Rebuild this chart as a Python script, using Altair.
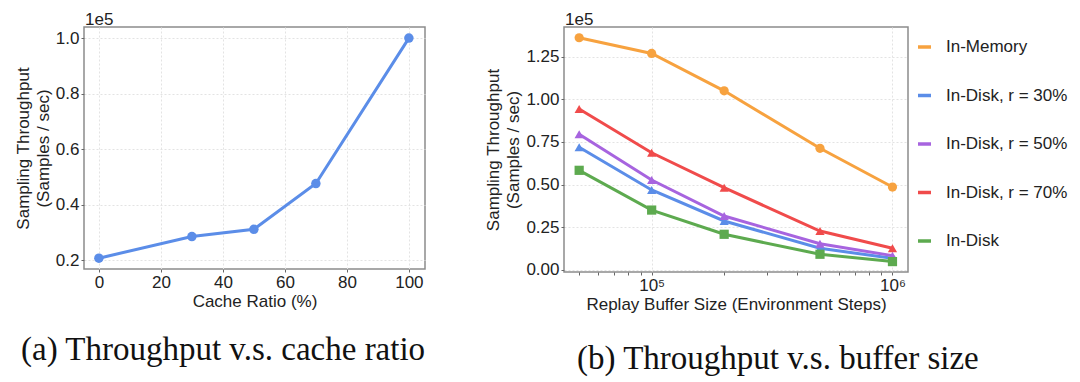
import altair as alt
import pandas as pd

# ---------------- data ----------------
cache_ratio = [0, 30, 50, 70, 100]
cache_throughput = [0.207, 0.285, 0.311, 0.476, 1.0]

buffer_size = [5e4, 1e5, 2e5, 5e5, 1e6]
series_names = ["In-Memory", "In-Disk, r = 30%", "In-Disk, r = 50%", "In-Disk, r = 70%", "In-Disk"]
in_memory = [1.361, 1.269, 1.050, 0.713, 0.486]
in_disk_r30 = [0.719, 0.469, 0.287, 0.127, 0.068]
in_disk_r50 = [0.795, 0.527, 0.316, 0.154, 0.084]
in_disk_r70 = [0.943, 0.687, 0.482, 0.228, 0.127]
in_disk = [0.584, 0.351, 0.209, 0.092, 0.049]
series_values = [in_memory, in_disk_r30, in_disk_r50, in_disk_r70, in_disk]
series_colors = ["#F7A23F", "#5B8DE8", "#A764DF", "#F04B4B", "#5DAA4F"]
series_shapes = ["circle", "triangle-up", "triangle-up", "triangle-up", "square"]
left_color = "#5B8DE8"

left_x_ticks = [0, 20, 40, 60, 80, 100]
left_y_ticks = [0.2, 0.4, 0.6, 0.8, 1.0]
right_y_ticks = [0.0, 0.25, 0.5, 0.75, 1.0, 1.25]
right_x_major = [1e5, 1e6]
right_x_major_labels = ["10⁵", "10⁶"]
right_x_minor = [5e4, 6e4, 7e4, 8e4, 9e4, 2e5, 3e5, 4e5, 5e5, 6e5, 7e5, 8e5, 9e5]

exponent_label = "1e5"
y_title = ["Sampling Throughput", "(Samples / sec)"]
left_x_title = "Cache Ratio (%)"
right_x_title = "Replay Buffer Size (Environment Steps)"
captions = ["(a) Throughput v.s. cache ratio", "(b) Throughput v.s. buffer size"]

SANS = "Liberation Sans"
SERIF = "Liberation Serif"

# ---------------- tables ----------------
left_df = pd.DataFrame({"ratio": cache_ratio, "tput": cache_throughput})
rows = []
for name, vals, col, shp in zip(series_names, series_values, series_colors, series_shapes):
    for s, v in zip(buffer_size, vals):
        rows.append({"series": name, "col": col, "shp": shp, "size": s, "tput": v})
right_df = pd.DataFrame(rows)

# ---------------- left panel ----------------
LW, LH = 341, 242
lx = alt.X("ratio:Q", scale=alt.Scale(domain=[-4.8, 105.2], nice=False, zero=False),
           axis=alt.Axis(values=left_x_ticks, title=left_x_title, titlePadding=3, labelFlush=False))
ly = alt.Y("tput:Q", scale=alt.Scale(domain=[0.168, 1.04], nice=False, zero=False),
           axis=alt.Axis(values=left_y_ticks, format=".1f", title=y_title, titlePadding=3))

left_base = alt.Chart(left_df).encode(x=lx, y=ly)
left_line = left_base.mark_line(color=left_color, strokeWidth=3)
left_pts = left_base.mark_point(color=left_color, filled=True, opacity=1, size=90)
left_exp = alt.Chart(pd.DataFrame({"t": [exponent_label]})).mark_text(
    align="left", baseline="alphabetic", font=SANS, fontSize=17, color="#222"
).encode(x=alt.value(1), y=alt.value(-2.5), text="t:N")
left_cap = alt.Chart(pd.DataFrame({"t": [captions[0]]})).mark_text(
    align="left", baseline="alphabetic", font=SERIF, fontSize=33, color="#111"
).encode(x=alt.value(-63), y=alt.value(333), text="t:N")
left = alt.layer(left_line, left_pts, left_exp, left_cap).properties(width=LW, height=LH)

# ---------------- right panel ----------------
RW, RH = 344, 245
label_expr = ("datum.value == 100000 ? '%s' : datum.value == 1000000 ? '%s' : ''"
              % (right_x_major_labels[0], right_x_major_labels[1]))
rx = alt.X("size:Q",
           scale=alt.Scale(type="log", domain=[43250, 1160000], nice=False),
           axis=alt.Axis(values=sorted(right_x_minor + right_x_major), labelExpr=label_expr,
                         title=right_x_title, titlePadding=3, labelFlush=False, labelOverlap=False,
                         gridColor={"condition": {"test": "datum.value == 100000 || datum.value == 1000000",
                                                  "value": "#e3e3e3"},
                                    "value": "transparent"}))
ry = alt.Y("tput:Q", scale=alt.Scale(domain=[-0.012, 1.424], nice=False, zero=False),
           axis=alt.Axis(values=right_y_ticks, format=".2f", title=y_title, titlePadding=3))

color_legend = alt.Legend(
    orient="none", legendX=832, legendY=11.5, title=None, symbolType="stroke",
    symbolSize=169, symbolStrokeWidth=3.5, labelFont=SANS, labelFontSize=17,
    labelColor="#222", rowPadding=30.5, labelOffset=13, padding=0,
)
right_base = alt.Chart(right_df).encode(x=rx, y=ry)
right_line = right_base.mark_line(strokeWidth=3).encode(
    color=alt.Color("series:N", scale=alt.Scale(domain=series_names, range=series_colors),
                    legend=color_legend),
    detail="series:N",
)
right_pts = right_base.mark_point(filled=True, opacity=1, size=85).encode(
    color=alt.Color("col:N", scale=None),
    shape=alt.Shape("shp:N", scale=None),
    detail="series:N",
)
right_exp = alt.Chart(pd.DataFrame({"t": [exponent_label]})).mark_text(
    align="left", baseline="alphabetic", font=SANS, fontSize=17, color="#222"
).encode(x=alt.value(1), y=alt.value(-2.5), text="t:N")
right_cap = alt.Chart(pd.DataFrame({"t": [captions[1]]})).mark_text(
    align="left", baseline="alphabetic", font=SERIF, fontSize=33, color="#111"
).encode(x=alt.value(13), y=alt.value(342), text="t:N")
right = alt.layer(right_line, right_pts, right_exp, right_cap).properties(width=RW, height=RH)

chart = alt.hconcat(left, right, spacing=139, bounds="flush").configure(
    padding={"left": 5, "top": 1, "right": 0, "bottom": 0},
    background="white",
).configure_view(
    stroke="#8c8c8c", strokeWidth=1.5
).configure_axis(
    labelFont=SANS, titleFont=SANS, labelFontSize=17, titleFontSize=17,
    titleFontWeight="normal", labelColor="#222", titleColor="#222",
    tickColor="#666", tickSize=3, labelPadding=2, domain=False,
    gridColor="#e3e3e3", gridDash=[2, 2], gridWidth=1, titleLineHeight=20,
)

chart.save("out.html", embed_options={"renderer": "svg", "actions": False})
